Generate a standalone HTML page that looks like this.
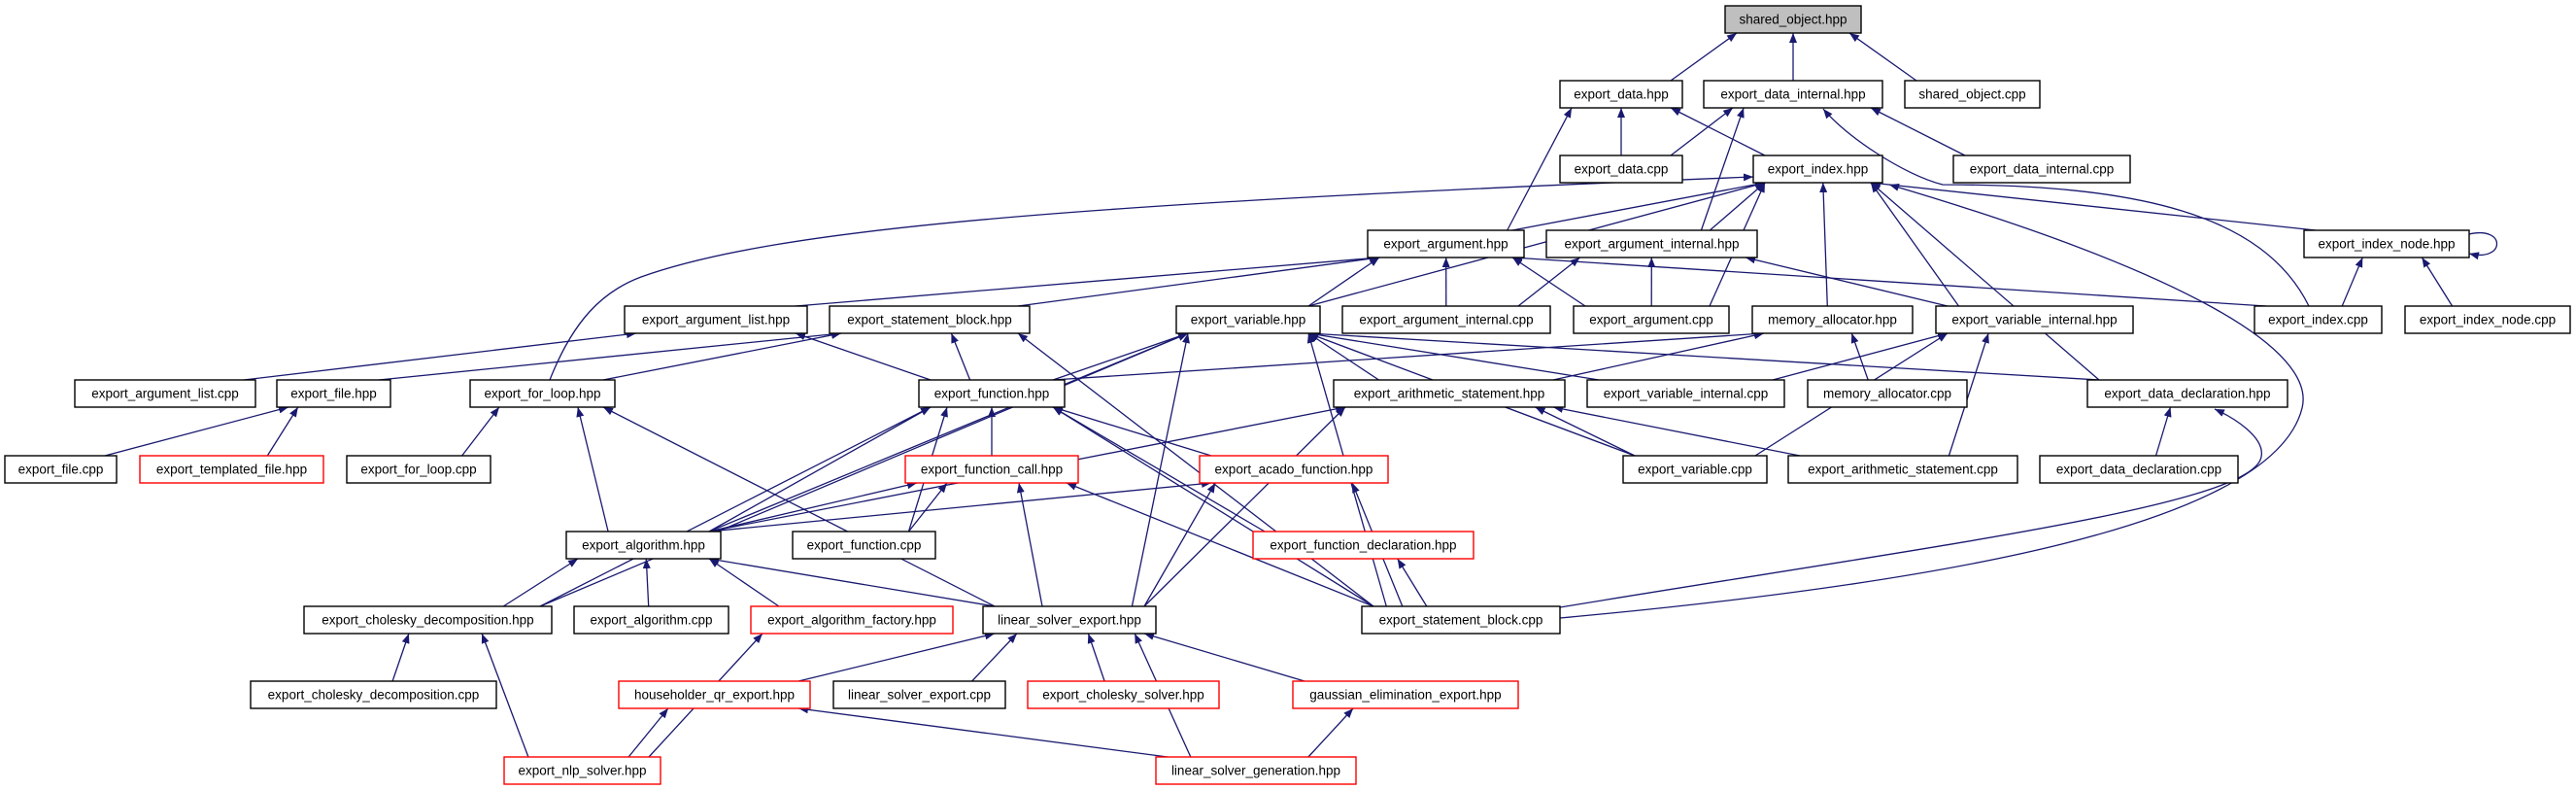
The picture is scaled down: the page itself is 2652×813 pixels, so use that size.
<!DOCTYPE html>
<html><head><meta charset="utf-8"><style>
html,body{margin:0;padding:0;background:#fff;}
svg{display:block;}
text{font-family:"Liberation Sans",sans-serif;font-size:13.5px;fill:#000;text-anchor:middle;dominant-baseline:central;}
rect{fill:#fff;stroke:#000;stroke-width:1.4;}
rect.red{stroke:#ff0000;}
rect.grey{fill:#bfbfbf;}
</style></head><body>
<svg id="s" width="2652" height="813" viewBox="0 0 2652 813" xmlns="http://www.w3.org/2000/svg">
<defs><marker id="a" viewBox="0 0 10 8" refX="10" refY="4" markerWidth="10" markerHeight="8" markerUnits="userSpaceOnUse" orient="auto"><path d="M0,0L10,4L0,8z" fill="#191970"/></marker></defs>
<g id="edges" fill="none" stroke="#191970" stroke-width="1.3"></g>
<g fill="none" stroke="#191970" stroke-width="1.3">
<path d="M2542,241 C2580,232 2580,270 2542,261" marker-end="url(#a)"/>
<path d="M1606,636 C2000,600 2340,540 2370,420 C2385,360 2250,280 1945,190" marker-end="url(#a)"/>
<path d="M1606,625 C2000,560 2320,520 2328,470 C2332,450 2300,430 2280,421" marker-end="url(#a)"/>
<path d="M566,391 C590,330 620,300 660,285 C800,235 1100,210 1805,182" marker-end="url(#a)"/>
<path d="M2377,315 C2330,220 2200,190 2000,190 C1960,180 1900,140 1877,112" marker-end="url(#a)"/>
</g>
<g id="nodes">
<rect class="grey" x="1776" y="6" width="140" height="28"/><text x="1846" y="20">shared_object.hpp</text>
<rect x="1606" y="83" width="126" height="28"/><text x="1669" y="97">export_data.hpp</text>
<rect x="1754" y="83" width="184" height="28"/><text x="1846" y="97">export_data_internal.hpp</text>
<rect x="1961" y="83" width="139" height="28"/><text x="2030.5" y="97">shared_object.cpp</text>
<rect x="1606" y="160" width="126" height="28"/><text x="1669" y="174">export_data.cpp</text>
<rect x="1805" y="160" width="133" height="28"/><text x="1871.5" y="174">export_index.hpp</text>
<rect x="2011" y="160" width="182" height="28"/><text x="2102" y="174">export_data_internal.cpp</text>
<rect x="1408" y="237" width="161" height="28"/><text x="1488.5" y="251">export_argument.hpp</text>
<rect x="1592" y="237" width="217" height="28"/><text x="1700.5" y="251">export_argument_internal.hpp</text>
<rect x="2372" y="237" width="170" height="28"/><text x="2457" y="251">export_index_node.hpp</text>
<rect x="643" y="315" width="188" height="28"/><text x="737" y="329">export_argument_list.hpp</text>
<rect x="854" y="315" width="206" height="28"/><text x="957" y="329">export_statement_block.hpp</text>
<rect x="1211" y="315" width="148" height="28"/><text x="1285" y="329">export_variable.hpp</text>
<rect x="1382" y="315" width="214" height="28"/><text x="1489" y="329">export_argument_internal.cpp</text>
<rect x="1620" y="315" width="160" height="28"/><text x="1700" y="329">export_argument.cpp</text>
<rect x="1804" y="315" width="165" height="28"/><text x="1886.5" y="329">memory_allocator.hpp</text>
<rect x="1993" y="315" width="203" height="28"/><text x="2094.5" y="329">export_variable_internal.hpp</text>
<rect x="2321" y="315" width="131" height="28"/><text x="2386.5" y="329">export_index.cpp</text>
<rect x="2476" y="315" width="170" height="28"/><text x="2561" y="329">export_index_node.cpp</text>
<rect x="77" y="391" width="186" height="28"/><text x="170" y="405">export_argument_list.cpp</text>
<rect x="285" y="391" width="117" height="28"/><text x="343.5" y="405">export_file.hpp</text>
<rect x="484" y="391" width="149" height="28"/><text x="558.5" y="405">export_for_loop.hpp</text>
<rect x="946" y="391" width="150" height="28"/><text x="1021" y="405">export_function.hpp</text>
<rect x="1373" y="391" width="238" height="28"/><text x="1492" y="405">export_arithmetic_statement.hpp</text>
<rect x="1634" y="391" width="203" height="28"/><text x="1735.5" y="405">export_variable_internal.cpp</text>
<rect x="1861" y="391" width="164" height="28"/><text x="1943" y="405">memory_allocator.cpp</text>
<rect x="2149" y="391" width="206" height="28"/><text x="2252" y="405">export_data_declaration.hpp</text>
<rect x="5" y="469" width="115" height="28"/><text x="62.5" y="483">export_file.cpp</text>
<rect class="red" x="144" y="469" width="189" height="28"/><text x="238.5" y="483">export_templated_file.hpp</text>
<rect x="357" y="469" width="148" height="28"/><text x="431" y="483">export_for_loop.cpp</text>
<rect class="red" x="932" y="469" width="178" height="28"/><text x="1021" y="483">export_function_call.hpp</text>
<rect class="red" x="1235" y="469" width="194" height="28"/><text x="1332" y="483">export_acado_function.hpp</text>
<rect x="1671" y="469" width="148" height="28"/><text x="1745" y="483">export_variable.cpp</text>
<rect x="1841" y="469" width="236" height="28"/><text x="1959" y="483">export_arithmetic_statement.cpp</text>
<rect x="2100" y="469" width="204" height="28"/><text x="2202" y="483">export_data_declaration.cpp</text>
<rect x="583" y="547" width="159" height="28"/><text x="662.5" y="561">export_algorithm.hpp</text>
<rect x="816" y="547" width="147" height="28"/><text x="889.5" y="561">export_function.cpp</text>
<rect class="red" x="1290" y="547" width="227" height="28"/><text x="1403.5" y="561">export_function_declaration.hpp</text>
<rect x="313" y="624" width="255" height="28"/><text x="440.5" y="638">export_cholesky_decomposition.hpp</text>
<rect x="591" y="624" width="159" height="28"/><text x="670.5" y="638">export_algorithm.cpp</text>
<rect class="red" x="773" y="624" width="208" height="28"/><text x="877" y="638">export_algorithm_factory.hpp</text>
<rect x="1012" y="624" width="178" height="28"/><text x="1101" y="638">linear_solver_export.hpp</text>
<rect x="1402" y="624" width="204" height="28"/><text x="1504" y="638">export_statement_block.cpp</text>
<rect x="258" y="701" width="253" height="28"/><text x="384.5" y="715">export_cholesky_decomposition.cpp</text>
<rect class="red" x="637" y="701" width="197" height="28"/><text x="735.5" y="715">householder_qr_export.hpp</text>
<rect x="858" y="701" width="177" height="28"/><text x="946.5" y="715">linear_solver_export.cpp</text>
<rect class="red" x="1058" y="701" width="197" height="28"/><text x="1156.5" y="715">export_cholesky_solver.hpp</text>
<rect class="red" x="1331" y="701" width="232" height="28"/><text x="1447" y="715">gaussian_elimination_export.hpp</text>
<rect class="red" x="519" y="779" width="161" height="28"/><text x="599.5" y="793">export_nlp_solver.hpp</text>
<rect class="red" x="1190" y="779" width="206" height="28"/><text x="1293" y="793">linear_solver_generation.hpp</text>
</g>
</svg>
<script>
var N={so_h:[1776,1916,1],ed_h:[1606,1732,2],edi_h:[1754,1938,2],so_c:[1961,2100,2],ed_c:[1606,1732,3],ei_h:[1805,1938,3],edi_c:[2011,2193,3],ea_h:[1408,1569,4],eai_h:[1592,1809,4],ein_h:[2372,2542,4],eal_h:[643,831,5],esb_h:[854,1060,5],ev_h:[1211,1359,5],eai_c:[1382,1596,5],ea_c:[1620,1780,5],ma_h:[1804,1969,5],evi_h:[1993,2196,5],ei_c:[2321,2452,5],ein_c:[2476,2646,5],eal_c:[77,263,6],ef_h:[285,402,6],efl_h:[484,633,6],efn_h:[946,1096,6],eas_h:[1373,1611,6],evi_c:[1634,1837,6],ma_c:[1861,2025,6],edd_h:[2149,2355,6],ef_c:[5,120,7],etf_h:[144,333,7],efl_c:[357,505,7],efc_h:[932,1110,7],eaf_h:[1235,1429,7],ev_c:[1671,1819,7],eas_c:[1841,2077,7],edd_c:[2100,2304,7],ealg_h:[583,742,8],efn_c:[816,963,8],efd_h:[1290,1517,8],ecd_h:[313,568,9],ealg_c:[591,750,9],eaf2:[773,981,9],lse_h:[1012,1190,9],esb_c:[1402,1606,9],ecd_c:[258,511,10],hqr:[637,834,10],lse_c:[858,1035,10],ecs:[1058,1255,10],gee:[1331,1563,10],nlp:[519,680,11],lsg:[1190,1396,11]};
var RY=[0,20,97,174,251,329,405,483,561,638,715,793];
var E="ed_h so_h,edi_h so_h,so_c so_h,ed_c ed_h,ea_h ed_h,ei_h ed_h,ed_c edi_h,eai_h edi_h,edi_c edi_h,ein_h ei_h,ea_h ei_h,eai_h ei_h,ev_h ei_h,ma_h ei_h,evi_h ei_h,edd_h ei_h,ea_c ei_h,ei_c ein_h,ein_c ein_h,eal_h ea_h,esb_h ea_h,ev_h ea_h,eai_c ea_h,ea_c ea_h,ei_c ea_h,eai_c eai_h,ea_c eai_h,evi_h eai_h,eal_c eal_h,efn_h eal_h,ef_h esb_h,efl_h esb_h,efn_h esb_h,esb_c esb_h,efn_h ev_h,ealg_h ev_h,ecd_h ev_h,lse_h ev_h,esb_c ev_h,eas_h ev_h,evi_c ev_h,edd_h ev_h,ev_c ev_h,ealg_h efn_h,ecd_h efn_h,efc_h efn_h,efn_c efn_h,eaf_h efn_h,efd_h efn_h,esb_c efn_h,efn_h ma_h,eas_h ma_h,ma_c ma_h,ev_c eas_h,eas_c eas_h,lse_h eas_h,ealg_h eas_h,ev_c evi_h,eas_c evi_h,evi_c evi_h,ealg_h efc_h,efn_c efc_h,lse_h efc_h,esb_c efc_h,ealg_h eaf_h,lse_h eaf_h,esb_c eaf_h,esb_c efd_h,ef_c ef_h,etf_h ef_h,efl_c efl_h,ealg_h efl_h,lse_h efl_h,ecd_h ealg_h,ealg_c ealg_h,eaf2 ealg_h,lse_h ealg_h,edd_c edd_h,ecd_c ecd_h,nlp ecd_h,nlp eaf2,hqr lse_h,lse_c lse_h,ecs lse_h,gee lse_h,lsg lse_h,nlp hqr,lsg hqr,lsg gee";
function box(k){var n=N[k];return{x1:n[0],x2:n[1],y1:RY[n[2]]-14,y2:RY[n[2]]+14,cx:(n[0]+n[1])/2,cy:RY[n[2]]};}
var g=document.getElementById('edges'),s='';
E.split(',').forEach(function(e){var p=e.split(' '),c=box(p[0]),q=box(p[1]);
var cx=c.cx,qx=q.cx;
var dxx=qx-cx;cx=cx+Math.max(-(c.x2-c.x1)/2+12,Math.min((c.x2-c.x1)/2-12,dxx*0.35));qx=qx-Math.max(-(q.x2-q.x1)/2+12,Math.min((q.x2-q.x1)/2-12,dxx*0.35));
var a,b;
if(c.cy>q.cy){a=[cx,c.y1];b=[qx,q.y2];}else{a=[cx,c.y2];b=[qx,q.y1];}
s+='<path d="M'+a[0].toFixed(1)+','+a[1]+'L'+b[0].toFixed(1)+','+b[1]+'" marker-end="url(#a)"/>';});
g.innerHTML=s;
</script>
</body></html>
